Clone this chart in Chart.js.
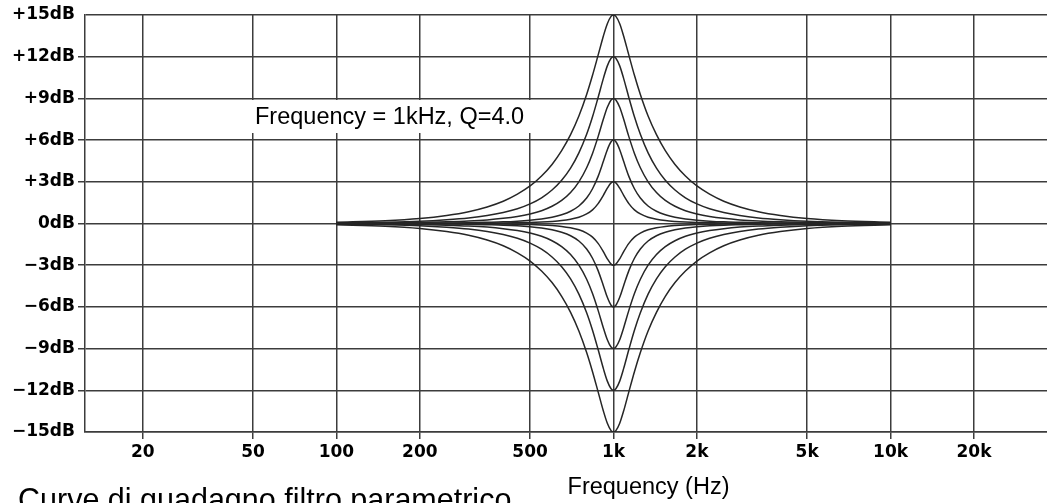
<!DOCTYPE html>
<html>
<head>
<meta charset="utf-8">
<script src="https://cdn.jsdelivr.net/npm/chart.js@4.4.1/dist/chart.umd.min.js"></script>
<style>
  html, body { margin: 0; padding: 0; background: #ffffff; }
  #wrap { width: 1047px; height: 503px; position: relative; }
</style>
</head>
<body>
<div id="wrap"><canvas id="c" width="1047" height="503"></canvas></div>
<script>
// ---- data ----
const freqHz = [100,150,200,250,300,350,400,450,500,550,600,650,700,750,800,840,880,920,950,980,1000,
                1020,1053,1087,1136,1190,1250,1333,1429,1538,1667,1818,2000,2222,2500,2857,3333,4000,5000,6667,10000];

const gainP15 = [0.09,0.20,0.36,0.58,0.85,1.19,1.60,2.11,2.70,3.42,4.25,5.24,6.39,7.73,9.28,10.66,12.11,13.51,14.37,14.90,15,
                 14.90,14.37,13.51,12.11,10.66,9.28,7.73,6.39,5.24,4.25,3.42,2.70,2.11,1.60,1.19,0.85,0.58,0.36,0.20,0.09];
const gainP12 = [0.04,0.09,0.16,0.27,0.40,0.57,0.79,1.06,1.41,1.85,2.41,3.11,3.98,5.08,6.42,7.68,9.07,10.46,11.34,11.89,12,
                 11.89,11.34,10.46,9.07,7.68,6.42,5.08,3.98,3.11,2.41,1.85,1.41,1.06,0.79,0.57,0.40,0.27,0.16,0.09,0.04];
const gainP9  = [0.02,0.04,0.07,0.12,0.18,0.26,0.37,0.51,0.69,0.92,1.24,1.66,2.23,3.00,4.01,5.04,6.25,7.53,8.36,8.89,9,
                 8.89,8.36,7.53,6.25,5.04,4.01,3.00,2.23,1.66,1.24,0.92,0.69,0.51,0.37,0.26,0.18,0.12,0.07,0.04,0.02];
const gainP6  = [0.01,0.01,0.02,0.04,0.06,0.09,0.12,0.17,0.24,0.33,0.45,0.63,0.88,1.26,1.83,2.50,3.39,4.49,5.31,5.88,6,
                 5.88,5.31,4.49,3.39,2.50,1.83,1.26,0.88,0.63,0.45,0.33,0.24,0.17,0.12,0.09,0.06,0.04,0.02,0.01,0.01];
const gainP3  = [0.00,0.00,0.01,0.01,0.02,0.03,0.04,0.06,0.08,0.11,0.15,0.21,0.31,0.45,0.69,0.98,1.43,2.04,2.54,2.92,3,
                 2.92,2.54,2.04,1.43,0.98,0.69,0.45,0.31,0.21,0.15,0.11,0.08,0.06,0.04,0.03,0.02,0.01,0.01,0.00,0.00];
const gainM3  = [0.00,0.00,-0.01,-0.01,-0.02,-0.03,-0.04,-0.06,-0.08,-0.11,-0.15,-0.21,-0.31,-0.45,-0.69,-0.98,-1.43,-2.04,-2.54,-2.92,-3,
                 -2.92,-2.54,-2.04,-1.43,-0.98,-0.69,-0.45,-0.31,-0.21,-0.15,-0.11,-0.08,-0.06,-0.04,-0.03,-0.02,-0.01,-0.01,0.00,0.00];
const gainM6  = [-0.01,-0.01,-0.02,-0.04,-0.06,-0.09,-0.12,-0.17,-0.24,-0.33,-0.45,-0.63,-0.88,-1.26,-1.83,-2.50,-3.39,-4.49,-5.31,-5.88,-6,
                 -5.88,-5.31,-4.49,-3.39,-2.50,-1.83,-1.26,-0.88,-0.63,-0.45,-0.33,-0.24,-0.17,-0.12,-0.09,-0.06,-0.04,-0.02,-0.01,-0.01];
const gainM9  = [-0.02,-0.04,-0.07,-0.12,-0.18,-0.26,-0.37,-0.51,-0.69,-0.92,-1.24,-1.66,-2.23,-3.00,-4.01,-5.04,-6.25,-7.53,-8.36,-8.89,-9,
                 -8.89,-8.36,-7.53,-6.25,-5.04,-4.01,-3.00,-2.23,-1.66,-1.24,-0.92,-0.69,-0.51,-0.37,-0.26,-0.18,-0.12,-0.07,-0.04,-0.02];
const gainM12 = [-0.04,-0.09,-0.16,-0.27,-0.40,-0.57,-0.79,-1.06,-1.41,-1.85,-2.41,-3.11,-3.98,-5.08,-6.42,-7.68,-9.07,-10.46,-11.34,-11.89,-12,
                 -11.89,-11.34,-10.46,-9.07,-7.68,-6.42,-5.08,-3.98,-3.11,-2.41,-1.85,-1.41,-1.06,-0.79,-0.57,-0.40,-0.27,-0.16,-0.09,-0.04];
const gainM15 = [-0.09,-0.20,-0.36,-0.58,-0.85,-1.19,-1.60,-2.11,-2.70,-3.42,-4.25,-5.24,-6.39,-7.73,-9.28,-10.66,-12.11,-13.51,-14.37,-14.90,-15,
                 -14.90,-14.37,-13.51,-12.11,-10.66,-9.28,-7.73,-6.39,-5.24,-4.25,-3.42,-2.70,-2.11,-1.60,-1.19,-0.85,-0.58,-0.36,-0.20,-0.09];

const xTickValues = [20,50,100,200,500,1000,2000,5000,10000,20000];
const xTickLabels = ['20','50','100','200','500','1k','2k','5k','10k','20k'];
const yTickValues = [-15,-12,-9,-6,-3,0,3,6,9,12,15];
const yTickLabels = ['\u221215dB','\u221212dB','\u22129dB','\u22126dB','\u22123dB','0dB','+3dB','+6dB','+9dB','+12dB','+15dB'];

const annotationText = 'Frequency = 1kHz, Q=4.0';
const xAxisTitle = 'Frequency (Hz)';
const captionText = 'Curve di guadagno filtro parametrico';

// ---- chart ----
const allGains = [gainP15, gainP12, gainP9, gainP6, gainP3, gainM3, gainM6, gainM9, gainM12, gainM15];
const curveColor = '#262626';
const gridColor = '#3c3c3c';
const tickFont = { family: 'DejaVu Sans', size: 17, weight: 'bold' };

const datasets = allGains.map(g => ({
  data: freqHz.map((f, i) => ({ x: f, y: g[i] })),
  borderColor: curveColor,
  borderWidth: 1.5,
  pointRadius: 0,
  fill: false,
  cubicInterpolationMode: 'monotone'
}));

const textPlugin = {
  id: 'texts',
  afterDraw(chart) {
    const ctx = chart.ctx;
    ctx.save();
    // annotation with white box
    ctx.fillStyle = '#ffffff';
    ctx.fillRect(250, 100, 284, 33);
    ctx.fillStyle = '#000000';
    ctx.textBaseline = 'alphabetic';
    ctx.textAlign = 'left';
    ctx.font = '23.5px "Liberation Sans", Arial, sans-serif';
    ctx.fillText(annotationText, 255, 123.5);
    // x axis title
    ctx.textAlign = 'center';
    ctx.fillText(xAxisTitle, 648.5, 494);
    // caption (partly cut at bottom)
    ctx.textAlign = 'left';
    ctx.font = '30.5px "Liberation Sans", Arial, sans-serif';
    ctx.fillText(captionText, 18, 510);
    ctx.restore();
  }
};

new Chart(document.getElementById('c'), {
  type: 'line',
  data: { datasets },
  options: {
    responsive: false,
    animation: false,
    devicePixelRatio: 1,
    layout: { padding: { top: 15, left: 0, right: 0, bottom: 0 } },
    plugins: { legend: { display: false }, tooltip: { enabled: false }, title: { display: false } },
    scales: {
      x: {
        type: 'logarithmic',
        min: 12.38,
        max: 36680,
        afterBuildTicks(scale) { scale.ticks = xTickValues.map(v => ({ value: v })); },
        afterFit(scale) { scale.height = 71; },
        ticks: {
          autoSkip: false, maxRotation: 0, minRotation: 0, padding: 3,
          color: '#000000', font: tickFont,
          callback: (v, i) => xTickLabels[i]
        },
        grid: { color: gridColor, lineWidth: 1.5, tickLength: 7, drawTicks: true, tickColor: gridColor },
        border: { display: true, color: gridColor, width: 1.5 }
      },
      y: {
        type: 'linear',
        min: -15,
        max: 15,
        afterBuildTicks(scale) { scale.ticks = yTickValues.map(v => ({ value: v })); },
        afterFit(scale) { scale.width = 85; },
        ticks: {
          padding: 3, color: '#000000', font: tickFont,
          callback: (v, i) => yTickLabels[i]
        },
        grid: {
          color: gridColor, lineWidth: 1.5, tickLength: 7, drawTicks: true,
          tickColor: c => (c.tick && Math.abs(c.tick.value) === 15) ? 'rgba(0,0,0,0)' : gridColor
        },
        border: { display: true, color: gridColor, width: 1.5 }
      }
    }
  },
  plugins: [textPlugin]
});
</script>
</body>
</html>
